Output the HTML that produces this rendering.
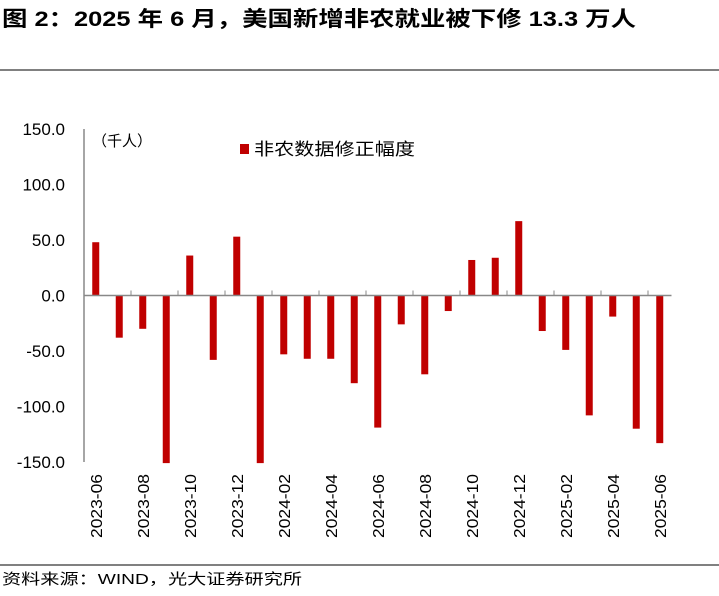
<!DOCTYPE html>
<html><head><meta charset="utf-8"><style>
body{margin:0;background:#fff;width:719px;height:591px;overflow:hidden;font-family:"Liberation Sans","Noto Sans CJK SC",sans-serif}
</style></head><body>
<svg width="719" height="591" xmlns="http://www.w3.org/2000/svg" font-family="Liberation Sans, Noto Sans CJK SC, sans-serif">
<text x="2" y="26" font-size="21" font-weight="bold" fill="#000" textLength="634" lengthAdjust="spacingAndGlyphs">图 2：2025 年 6 月，美国新增非农就业被下修 13.3 万人</text>
<line x1="0" y1="70" x2="719" y2="70" stroke="#000" stroke-width="1"/>
<line x1="0" y1="565" x2="719" y2="565" stroke="#000" stroke-width="1"/>
<text x="2" y="584" font-size="15" fill="#000" textLength="300" lengthAdjust="spacingAndGlyphs">资料来源：WIND，光大证券研究所</text>
<text x="92" y="146" font-size="15" fill="#000">（千人）</text>
<rect x="240" y="144" width="9" height="10" fill="#c00000"/>
<text x="254" y="155" font-size="17" fill="#000" textLength="161" lengthAdjust="spacingAndGlyphs">非农数据修正幅度</text>
<g id="chart"></g>
</svg>
<script>
const categories=["2023-06","2023-07","2023-08","2023-09","2023-10","2023-11","2023-12","2024-01","2024-02","2024-03","2024-04","2024-05","2024-06","2024-07","2024-08","2024-09","2024-10","2024-11","2024-12","2025-01","2025-02","2025-03","2025-04","2025-05","2025-06"];
const revisions=[48,-38,-30,-151,36,-58,53,-151,-53,-57,-57,-79,-119,-26,-71,-14,32,34,67,-32,-49,-108,-19,-120,-133];
const yTicks=[150,100,50,0,-50,-100,-150];
const yTickLabels=["150.0","100.0","50.0","0.0","-50.0","-100.0","-150.0"];
const NS="http://www.w3.org/2000/svg";
const g=document.getElementById('chart');
const x0=84,band=23.5,yTop=129,yBot=462;
const y=v=>yTop+(150-v)*(yBot-yTop)/300;
const xc=i=>x0+band*(i+0.5);
function mk(t,a){const e=document.createElementNS(NS,t);for(const k in a)e.setAttribute(k,a[k]);g.appendChild(e);return e;}
let ax=mk('line',{x1:x0,y1:yTop,x2:x0,y2:yBot,stroke:'#888','stroke-width':1.5});


yTicks.forEach((v,i)=>{const t=mk('text',{x:65,y:y(v)+6,'font-size':17,'text-anchor':'end',fill:'#000'});t.textContent=yTickLabels[i];

});
revisions.forEach((v,i)=>{const r=mk('rect',{x:xc(i)-3.5,y:Math.min(y(v),y(0)),width:7,height:Math.abs(y(v)-y(0)),fill:'#c00000'});

});
const xEnd=x0+band*categories.length;
let za=mk('line',{x1:x0,y1:y(0),x2:xEnd,y2:y(0),stroke:'#888','stroke-width':1.5});


for(let k=2;k<=categories.length;k+=2){const tk=mk('line',{x1:x0+band*k,y1:y(0),x2:x0+band*k,y2:y(0)-5,stroke:'#888'});

}
categories.forEach((c,i)=>{if(i%2)return;const t=mk('text',{transform:`translate(${xc(i)+6},474) rotate(-90)`,'font-size':16,'text-anchor':'end',fill:'#000',textLength:64,lengthAdjust:'spacingAndGlyphs'});t.textContent=c;

});
</script>
</body></html>
